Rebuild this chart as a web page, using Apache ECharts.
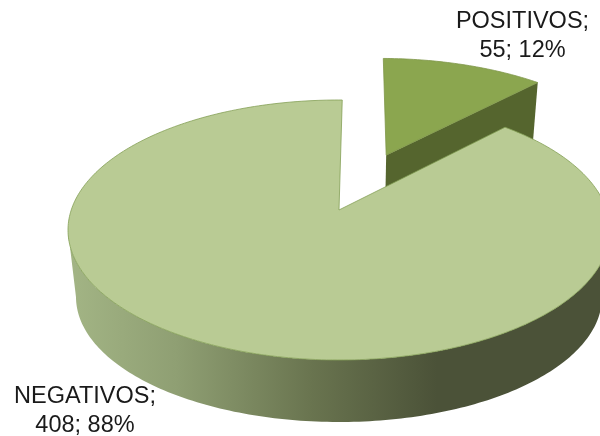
<!DOCTYPE html>
<html>
<head>
<meta charset="utf-8">
<title>Pie</title>
<script src="https://cdn.jsdelivr.net/npm/echarts@6/dist/echarts.min.js"></script>
<style>
  html, body { margin: 0; padding: 0; background: #fff; }
  #main { width: 600px; height: 436px; }
</style>
</head>
<body>
<div id="main"></div>
<script>
const categories = ['POSITIVOS', 'NEGATIVOS'];
const values = [55, 408];
const percents = [12, 88];

const topColors = ['#8ba64f', '#b9cb94'];
const edgeColors = ['#7d9648', '#84a055'];
const INNER_COLOR = '#55652e';

// ellipses of the top and bottom faces, in pixels
const TOP_FACE = { cx: 339, cy: 230, rx: 271, ry: 130 };
const BOTTOM_FACE = { cx: 339, cy: 297, rx: 263, ry: 125 };
const PERSPECTIVE = -0.154; // where the pie centre lands, in ellipse units
const START_ANGLE = 0.8;
const EXPLODE = [0.5, 0]; // distance pulled out per slice
const LABELS = [
  { x: 522.5, y: 36 },
  { x: 85, y: 411 }
];

const total = values.reduce((a, b) => a + b, 0);

// flat disc coordinates -> ellipse coordinates
function perspective(x, y) {
  const w = 1 + PERSPECTIVE * y;
  return [x * Math.sqrt(1 - PERSPECTIVE * PERSPECTIVE) / w, (y + PERSPECTIVE) / w];
}

function toPixel(p, face) {
  return [face.cx + p[0] * face.rx, face.cy + p[1] * face.ry];
}

function arcPoints(a0, a1, offset) {
  const pts = [];
  const n = Math.ceil(Math.abs(a1 - a0));
  for (let i = 0; i <= n; i++) {
    const a = (a0 + (a1 - a0) * i / n) * Math.PI / 180;
    pts.push(perspective(offset[0] + Math.sin(a), offset[1] - Math.cos(a)));
  }
  return pts;
}

function renderSlice(params, api) {
  const index = params.dataIndex;
  let before = 0;
  for (let i = 0; i < index; i++) before += values[i];
  const a0 = START_ANGLE + before / total * 360;
  const a1 = a0 + api.value(0) / total * 360;
  const mid = (a0 + a1) / 2 * Math.PI / 180;
  const offset = [EXPLODE[index] * Math.sin(mid), -EXPLODE[index] * Math.cos(mid)];

  const arc = arcPoints(a0, a1, offset);
  const apex = perspective(offset[0], offset[1]);
  const children = [];

  // outer wall, front half only
  const front = arc.filter(p => p[1] >= 0);
  if (front.length > 1) {
    children.push({
      type: 'polygon',
      shape: {
        points: front.map(p => toPixel(p, TOP_FACE))
          .concat(front.slice().reverse().map(p => toPixel(p, BOTTOM_FACE)))
      },
      style: {
        fill: new echarts.graphic.LinearGradient(0, 0, 1, 0, [
          { offset: 0, color: '#a3b585' },
          { offset: 0.2, color: '#8f9f73' },
          { offset: 0.45, color: '#69744f' },
          { offset: 0.68, color: '#4b5238' },
          { offset: 1, color: '#4b5238' }
        ])
      }
    });
  }

  // cut face that looks towards the viewer
  if (index === 0) {
    const corner = arc[arc.length - 1];
    children.push({
      type: 'polygon',
      shape: {
        points: [
          toPixel(apex, TOP_FACE),
          toPixel(corner, TOP_FACE),
          toPixel(corner, BOTTOM_FACE),
          toPixel(apex, BOTTOM_FACE)
        ]
      },
      style: { fill: INNER_COLOR }
    });
  }

  children.push({
    type: 'polygon',
    shape: { points: [toPixel(apex, TOP_FACE)].concat(arc.map(p => toPixel(p, TOP_FACE))) },
    style: { fill: topColors[index], stroke: edgeColors[index], lineWidth: 0.8 }
  });

  children.push({
    type: 'text',
    z2: 10,
    style: {
      text: categories[index] + ';\n' + api.value(0) + '; ' + percents[index] + '%',
      x: LABELS[index].x,
      y: LABELS[index].y,
      align: 'center',
      verticalAlign: 'middle',
      font: '23.5px "Liberation Sans", Arial, sans-serif',
      lineHeight: 29,
      fill: '#1a1a1a'
    }
  });

  return { type: 'group', children: children };
}

const chart = echarts.init(document.getElementById('main'));
chart.setOption({
  animation: false,
  backgroundColor: '#fff',
  series: [{
    type: 'custom',
    coordinateSystem: 'none',
    renderItem: renderSlice,
    data: values.map((v, i) => ({ name: categories[i], value: [v] }))
  }]
});
</script>
</body>
</html>
